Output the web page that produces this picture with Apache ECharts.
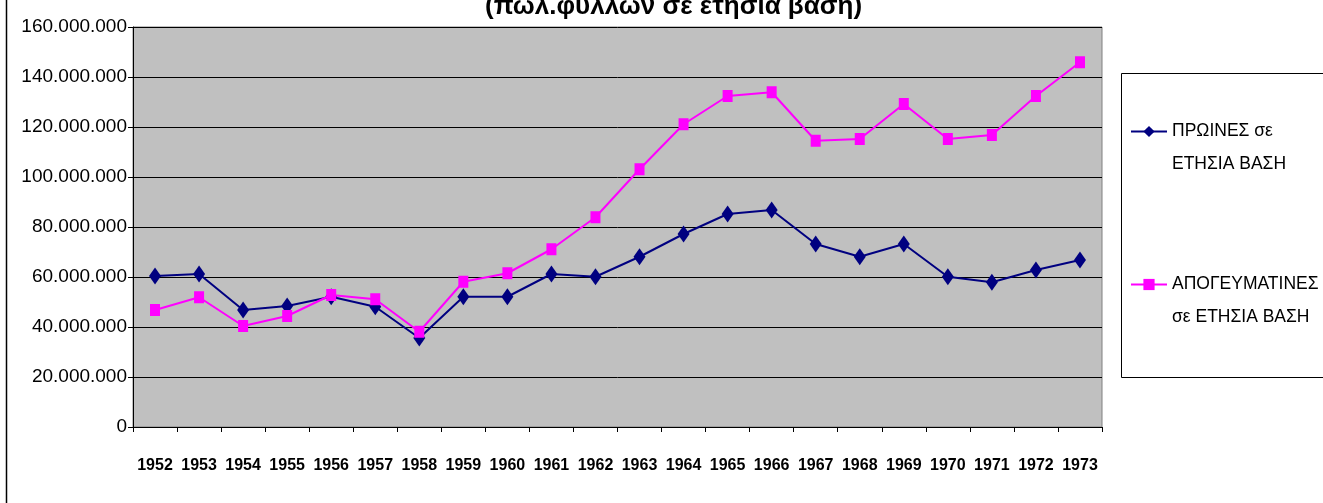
<!DOCTYPE html>
<html>
<head>
<meta charset="utf-8">
<script src="https://cdn.jsdelivr.net/npm/echarts@6/dist/echarts.min.js"></script>
<style>
  html, body { margin: 0; padding: 0; background: #fff; }
  #chart { width: 1323px; height: 503px; }
</style>
</head>
<body>
<div id="chart"></div>
<script>
// years on the x axis
var years = ['1952', '1953', '1954', '1955', '1956', '1957', '1958', '1959', '1960', '1961', '1962',
  '1963', '1964', '1965', '1966', '1967', '1968', '1969', '1970', '1971', '1972', '1973'];

// morning papers, sheets per year
var morning = [60400000, 61200000, 46800000, 48400000, 52100000, 48100000, 35600000, 52100000, 52100000, 61200000, 60100000,
  68100000, 77200000, 85200000, 86800000, 73200000, 68100000, 73200000, 60100000, 57900000, 62800000, 66800000];

// afternoon papers, sheets per year
var afternoon = [46800000, 51900000, 40400000, 44400000, 52800000, 51100000, 38100000, 58100000, 61500000, 71100000, 83900000,
  103100000, 121100000, 132400000, 133900000, 114500000, 115200000, 129200000, 115200000, 116800000, 132400000, 145900000];

var yTicks = [0, 20000000, 40000000, 60000000, 80000000, 100000000, 120000000, 140000000, 160000000];

var seriesNames = ['ΠΡΩΙΝΕΣ σε ΕΤΗΣΙΑ ΒΑΣΗ', 'ΑΠΟΓΕΥΜΑΤΙΝΕΣ σε ΕΤΗΣΙΑ ΒΑΣΗ'];
// legend text split on two lines, as in the original box
var legendLines = {
  'ΠΡΩΙΝΕΣ σε ΕΤΗΣΙΑ ΒΑΣΗ': ['ΠΡΩΙΝΕΣ σε', 'ΕΤΗΣΙΑ ΒΑΣΗ'],
  'ΑΠΟΓΕΥΜΑΤΙΝΕΣ σε ΕΤΗΣΙΑ ΒΑΣΗ': ['ΑΠΟΓΕΥΜΑΤΙΝΕΣ', 'σε ΕΤΗΣΙΑ ΒΑΣΗ']
};
var titleText = '(πωλ.φύλλων σε ετήσια βάση)';

var font = "'Liberation Sans', Arial, sans-serif";

function dots(v) {
  return String(v).replace(/\B(?=(\d{3})+(?!\d))/g, '.');
}

// empty first line so the icon sits beside the first real line
function legendFmt(name) {
  return '\n' + legendLines[name].join('\n');
}

var chart = echarts.init(document.getElementById('chart'));

var legendText = {
  fontFamily: font,
  fontSize: 17.5,
  color: '#000',
  lineHeight: 33
};

var option = {
  animation: false,
  backgroundColor: '#fff',
  title: {
    text: titleText,
    left: 480,
    top: -11,
    textStyle: {
      fontFamily: font,
      fontWeight: 'bold',
      fontSize: 26,
      color: '#000'
    }
  },
  legend: [{
    data: [seriesNames[0]],
    formatter: legendFmt,
    orient: 'vertical',
    left: 1125,
    top: 77,
    itemWidth: 36,
    itemHeight: 14,
    textStyle: legendText
  }, {
    data: [seriesNames[1]],
    formatter: legendFmt,
    orient: 'vertical',
    left: 1125,
    top: 230,
    itemWidth: 36,
    itemHeight: 14,
    textStyle: legendText
  }],
  grid: {
    left: 133,
    right: 221,
    top: 27,
    bottom: 76,
    show: true,
    backgroundColor: '#C0C0C0',
    borderColor: '#808080',
    borderWidth: 1
  },
  xAxis: {
    type: 'category',
    data: years,
    boundaryGap: true,
    axisLine: { lineStyle: { color: '#000', width: 1 } },
    axisTick: { show: true, length: 5, inside: false, lineStyle: { color: '#000' } },
    axisLabel: {
      interval: 0,
      margin: 31,
      fontFamily: font,
      fontWeight: 'bold',
      fontSize: 16,
      color: '#000'
    },
    splitLine: { show: false }
  },
  yAxis: {
    type: 'value',
    min: yTicks[0],
    max: yTicks[yTicks.length - 1],
    interval: yTicks[1] - yTicks[0],
    axisLine: { show: true, lineStyle: { color: '#000', width: 1 } },
    axisTick: { show: true, length: 5, lineStyle: { color: '#000' } },
    axisLabel: {
      margin: 6,
      fontFamily: font,
      fontSize: 19,
      color: '#000',
      formatter: dots
    },
    splitLine: { show: true, lineStyle: { color: '#000', width: 1 } }
  },
  graphic: [{
    type: 'line',
    shape: { x1: 6.5, y1: 0, x2: 6.5, y2: 503 },
    style: { stroke: '#000', lineWidth: 1.5 }
  }, {
    type: 'rect',
    shape: { x: 1121.5, y: 73.5, width: 220, height: 304 },
    style: { fill: 'none', stroke: '#000', lineWidth: 1 },
    z: -1
  }],
  series: [{
    name: seriesNames[0],
    type: 'line',
    data: morning,
    symbol: 'diamond',
    symbolSize: [12, 17],
    color: '#000080',
    lineStyle: { color: '#000080', width: 2 },
    itemStyle: { color: '#000080' },
    z: 2
  }, {
    name: seriesNames[1],
    type: 'line',
    data: afternoon,
    symbol: 'rect',
    symbolSize: [10, 12],
    color: '#FF00FF',
    lineStyle: { color: '#FF00FF', width: 2 },
    itemStyle: { color: '#FF00FF' },
    z: 3
  }]
};

chart.setOption(option);
</script>
</body>
</html>
